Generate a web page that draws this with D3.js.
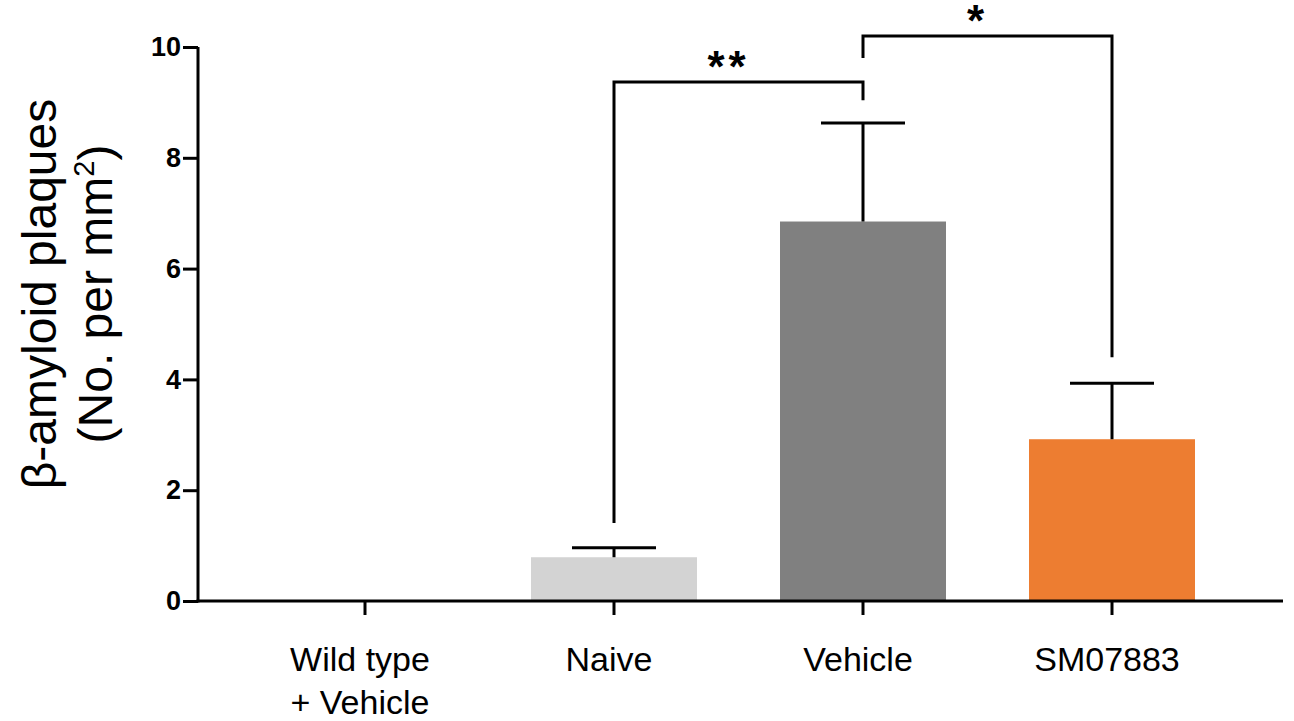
<!DOCTYPE html>
<html lang="en">
  <head>
    <meta charset="utf-8">
    <script src="https://d3js.org/d3.v7.min.js"></script>
    <style>
      body { margin: 0; background: #fff; }
      svg { font-family: "Liberation Sans", Arial, sans-serif; }
    </style>
  </head>
  <body>
    <svg id="plotarea" width="1294" height="721"></svg>
    <script>
      // data
      var categories = ["Wild type|+ Vehicle", "Naive", "Vehicle", "SM07883"];
      var means = [0, 0.79, 6.85, 2.92];
      var sems = [0, 0.17, 1.78, 1.01];
      var barColors = [null, "#d3d3d3", "#808080", "#ed7d31"];
      var yTicks = [0, 2, 4, 6, 8, 10];
      // significance brackets: [left group, right group, bar height, left foot, right foot, label]
      var brackets = [
        [1, 2, 9.37, 1.41, 9.04, "**"],
        [2, 3, 10.2, 9.8, 4.4, "*"]
      ];

      var svg = d3.select('#plotarea');
      var plotLeft = 198, plotRight = 1283, plotTop = 47, plotBottom = 601;

      var y = d3.scaleLinear().domain([0, 10]).range([plotBottom, plotTop]);
      var x = d3.scaleBand()
        .domain(categories)
        .range([240.5, 1236.5])
        .paddingInner(1 / 3)
        .paddingOuter(1 / 6);
      var cx = function(i) { return x(categories[i]) + x.bandwidth() / 2; };

      // bars (the wild type group has no bar drawn)
      svg.selectAll('rect.bar')
        .data(d3.range(means.length).filter(function(i) { return barColors[i]; }))
        .enter()
        .append('rect')
        .attr('class', 'bar')
        .attr('x', function(i) { return x(categories[i]); })
        .attr('width', x.bandwidth())
        .attr('y', function(i) { return y(means[i]); })
        .attr('height', function(i) { return plotBottom - y(means[i]); })
        .attr('fill', function(i) { return barColors[i]; });

      // error bars (upper only)
      var eb = svg.append('g').attr('stroke', '#000').attr('stroke-width', 3);
      means.forEach(function(m, i) {
        if (!sems[i]) return;
        eb.append('line')
          .attr('x1', cx(i)).attr('x2', cx(i))
          .attr('y1', y(m)).attr('y2', y(m + sems[i]));
        eb.append('line')
          .attr('x1', cx(i) - 42).attr('x2', cx(i) + 42)
          .attr('y1', y(m + sems[i])).attr('y2', y(m + sems[i]));
      });

      // y axis
      var yAxis = svg.append('g')
        .attr('transform', 'translate(' + plotLeft + ',0)')
        .call(d3.axisLeft(y).tickValues(yTicks).tickSize(15).tickPadding(2));
      yAxis.selectAll('line, path').attr('stroke', '#000').attr('stroke-width', 3);
      yAxis.select('path').attr('d', 'M0,' + (plotBottom + 1.5) + 'V' + plotTop);
      yAxis.selectAll('text')
        .attr('font-size', 27).attr('font-weight', 'bold').attr('fill', '#000')
        .attr('font-family', '"Liberation Sans", Arial, sans-serif');

      // x axis
      var xAxis = svg.append('g')
        .attr('transform', 'translate(0,' + plotBottom + ')')
        .call(d3.axisBottom(x).tickSize(14).tickFormat(''));
      xAxis.selectAll('line, path').attr('stroke', '#000').attr('stroke-width', 3);
      xAxis.select('path').attr('d', 'M' + (plotLeft - 1.5) + ',0H' + plotRight);

      svg.append('g').selectAll('text')
        .data(categories)
        .enter()
        .append('text')
        .attr('text-anchor', 'middle')
        .attr('font-size', 34)
        .attr('fill', '#000')
        .each(function(d, i) {
          var t = d3.select(this);
          d.split('|').forEach(function(s, k) {
            t.append('tspan').attr('x', cx(i) - 5).attr('y', 671 + k * 43).text(s);
          });
        });

      // y title
      var title = svg.append('text')
        .attr('transform', 'translate(0,294) rotate(-90)')
        .attr('text-anchor', 'middle')
        .attr('font-size', 48)
        .attr('fill', '#000');
      title.append('tspan').attr('x', 0).attr('y', 56).text('\u03b2-amyloid plaques');
      var l2 = title.append('tspan').attr('x', 0).attr('y', 112);
      l2.append('tspan').text('(No. per mm');
      l2.append('tspan').attr('dy', -18).attr('font-size', 29).text('2');
      l2.append('tspan').attr('dy', 18).text(')');

      // significance brackets
      var bg = svg.append('g');
      brackets.forEach(function(b) {
        var x1 = cx(b[0]), x2 = cx(b[1]);
        bg.append('path')
          .attr('d', 'M' + x1 + ',' + y(b[3]) + 'V' + y(b[2]) + 'H' + x2 + 'V' + y(b[4]))
          .attr('fill', 'none').attr('stroke', '#000').attr('stroke-width', 3);
        bg.append('text')
          .attr('x', (x1 + x2) / 2 - 10)
          .attr('y', y(b[2]))
          .attr('text-anchor', 'middle')
          .attr('font-size', 44)
          .attr('font-weight', 'bold')
          .attr('letter-spacing', 4)
          .text(b[5]);
      });
    </script>
  </body>
</html>
